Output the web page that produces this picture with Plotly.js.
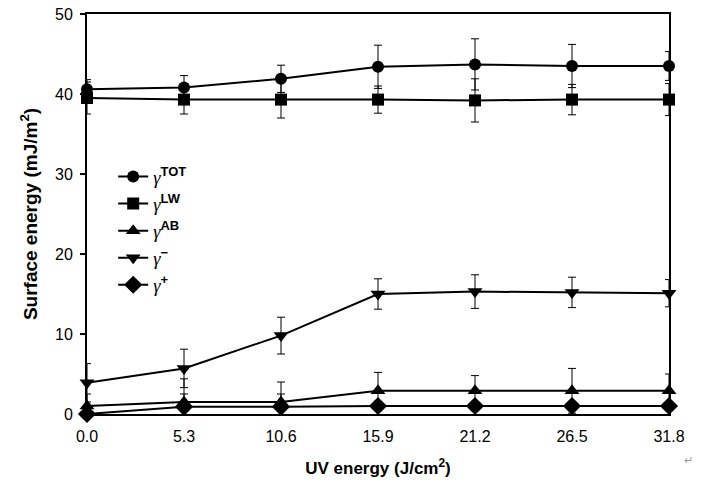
<!DOCTYPE html>
<html><head><meta charset="utf-8">
<script src="https://cdn.plot.ly/plotly-3.0.1.min.js"></script>
<style>html,body{margin:0;padding:0;background:#fff}#chart{width:717px;height:487px}</style>
</head><body><div id="chart"></div>
<script>
const uvEnergy = [0.0, 5.3, 10.6, 15.9, 21.2, 26.5, 31.8];
const tickLabels = ["0.0", "5.3", "10.6", "15.9", "21.2", "26.5", "31.8"];
const gTOT = [40.6, 40.8, 41.9, 43.4, 43.7, 43.5, 43.5];
const gTOTerr = [1.2, 1.5, 1.7, 2.7, 3.2, 2.7, 1.8];
const gLW = [39.5, 39.3, 39.3, 39.3, 39.2, 39.3, 39.3];
const gLWerr = [2.0, 1.8, 2.3, 1.7, 2.7, 1.9, 2.0];
const gAB = [1.0, 1.5, 1.5, 2.9, 2.9, 2.9, 2.9];
const gABerr = [1.5, 2.9, 2.5, 2.3, 1.9, 2.8, 2.1];
const gMinus = [3.9, 5.7, 9.8, 15.0, 15.3, 15.2, 15.1];
const gMinusErr = [2.4, 2.4, 2.3, 1.9, 2.1, 1.9, 1.7];
const gPlus = [0.0, 0.9, 0.9, 1.0, 1.0, 1.0, 1.0];
const gPlusErr = [0.3, 1.6, 1.6, 0.3, 0.3, 0.3, 0.3];

const G = '<span style="font-family:Liberation Serif"><i>γ</i></span>';
const seriesNames = [
  G + '<sup><b>TOT</b></sup>',
  G + '<sup><b>LW</b></sup>',
  G + '<sup><b>AB</b></sup>',
  G + '<sup><b>−</b></sup>',
  G + '<sup><b>+</b></sup>'
];
const symbols = ['circle', 'square', 'triangle-up', 'triangle-down', 'diamond'];
const sizes = [12, 12, 13, 13, 14];
const ys = [gTOT, gLW, gAB, gMinus, gPlus];
const errs = [gTOTerr, gLWerr, gABerr, gMinusErr, gPlusErr];

const traces = ys.map((y, i) => ({
  x: uvEnergy, y: y, name: seriesNames[i], type: 'scatter', mode: 'lines+markers',
  cliponaxis: false,
  line: {color: '#000', width: 2},
  marker: {symbol: symbols[i], size: sizes[i], color: '#000'},
  error_y: {type: 'data', array: errs[i], visible: true, color: '#000', thickness: 1, width: 4}
}));

const layout = {
  width: 717, height: 487,
  margin: {l: 87, r: 48, t: 14, b: 73},
  paper_bgcolor: '#fff', plot_bgcolor: '#fff',
  font: {family: 'Arial, Liberation Sans, sans-serif', color: '#000', size: 15},
  showlegend: true,
  legend: {x: 0.045, y: 0.64, xanchor: 'left', yanchor: 'top', bgcolor: 'rgba(0,0,0,0)',
           font: {size: 18.5, family: 'Arial, Liberation Sans, sans-serif'}, tracegroupgap: 0, itemwidth: 30},
  xaxis: {
    range: [0, 31.8], tickvals: uvEnergy, ticktext: tickLabels,
    showgrid: false, zeroline: false, showline: true, linecolor: '#000', linewidth: 2,
    mirror: true, ticks: 'inside', ticklen: 5, tickwidth: 2, tickcolor: '#000',
    tickfont: {size: 16}, ticklabelstandoff: 7,
    title: {text: '<b>UV energy (J/cm<sup>2</sup>)</b>', font: {size: 17}, standoff: 18}
  },
  yaxis: {
    range: [0, 50], tickvals: [0, 10, 20, 30, 40, 50],
    showgrid: false, zeroline: false, showline: true, linecolor: '#000', linewidth: 2,
    mirror: true, ticks: 'outside', ticklen: 5, tickwidth: 2, tickcolor: '#000',
    tickfont: {size: 16}, ticklabelstandoff: 4,
    title: {text: '<b>Surface energy (mJ/m<sup>2</sup>)</b>', font: {size: 19}, standoff: 12}
  },
  annotations: [{xref: 'paper', yref: 'paper', x: 1.045, y: -0.135, text: '↵', showarrow: false,
                 font: {size: 11, color: '#999'}}]
};
Plotly.newPlot('chart', traces, layout, {displayModeBar: false, staticPlot: true});
</script></body></html>
